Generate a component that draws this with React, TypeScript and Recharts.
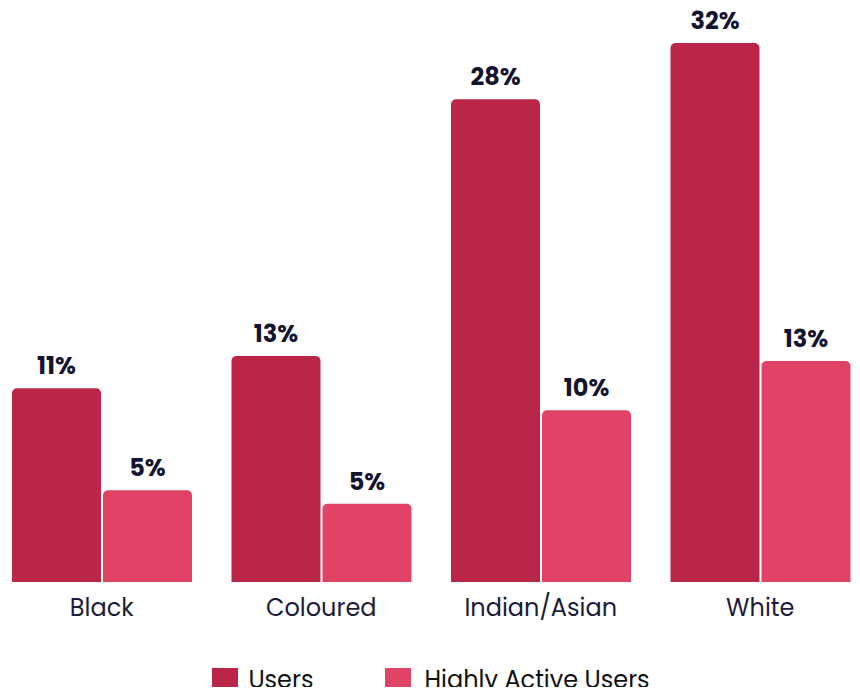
import React from 'react';
import { BarChart, Bar, XAxis, YAxis, Legend, LabelList } from 'recharts';

const categories = ['Black', 'Coloured', 'Indian/Asian', 'White'];
const users = [11.4, 13.3, 28.4, 31.7];
const highlyActive = [5.4, 4.6, 10.1, 13.0];

const USERS_COLOR = '#bb2648';
const ACTIVE_COLOR = '#e04366';
const FONT = "Poppins, 'Open Sans', sans-serif";

const data = categories.map((name, i) => ({
  name,
  users: users[i],
  highlyActive: highlyActive[i],
}));

const pct = (v: any) => `${Math.round(Number(v))}%`;

// legend drawn by hand: big square swatches, text centred on them
const LegendBox = () => (
  <div
    style={{
      display: 'flex',
      justifyContent: 'center',
      alignItems: 'flex-start',
      height: 27,
      lineHeight: '27px',
      fontFamily: FONT,
      fontSize: 24,
      color: '#111',
    }}
  >
    <div style={{ display: 'flex', alignItems: 'flex-start', marginRight: 72 }}>
      <span style={{ width: 26, height: 26, background: USERS_COLOR, marginRight: 10 }} />
      <span style={{ position: 'relative', top: -2 }}>Users</span>
    </div>
    <div style={{ display: 'flex', alignItems: 'flex-start' }}>
      <span style={{ width: 26, height: 26, background: ACTIVE_COLOR, marginRight: 13 }} />
      <span style={{ position: 'relative', top: -2 }}>Highly Active Users</span>
    </div>
  </div>
);

export default function App() {
  return (
    <div style={{ width: 860, height: 695, margin: -8, overflow: 'hidden', background: '#fff' }}>
      <div style={{ marginLeft: -8, width: 878 }}>
        <BarChart
          width={878}
          height={695}
          data={data}
          margin={{ top: 38, right: 0, bottom: 0, left: 0 }}
          barSize={89}
          barGap={2}
        >
          <XAxis
            dataKey="name"
            axisLine={false}
            tickLine={false}
            interval={0}
            height={86}
            tickMargin={11}
            tick={{ fill: '#1c1c3a', fontSize: 24, fontFamily: FONT }}
          />
          <YAxis hide domain={[0, 32]} allowDataOverflow />
          <Legend verticalAlign="bottom" content={() => <LegendBox />} />
          <Bar dataKey="users" name="Users" fill={USERS_COLOR} radius={[5, 5, 0, 0]} isAnimationActive={false}>
            <LabelList
              dataKey="users"
              position="top"
              offset={14}
              formatter={pct}
              style={{ fill: '#14142f', fontSize: 24, fontWeight: 700, fontFamily: FONT }}
            />
          </Bar>
          <Bar dataKey="highlyActive" name="Highly Active Users" fill={ACTIVE_COLOR} radius={[5, 5, 0, 0]} isAnimationActive={false}>
            <LabelList
              dataKey="highlyActive"
              position="top"
              offset={14}
              formatter={pct}
              style={{ fill: '#14142f', fontSize: 24, fontWeight: 700, fontFamily: FONT }}
            />
          </Bar>
        </BarChart>
      </div>
    </div>
  );
}
